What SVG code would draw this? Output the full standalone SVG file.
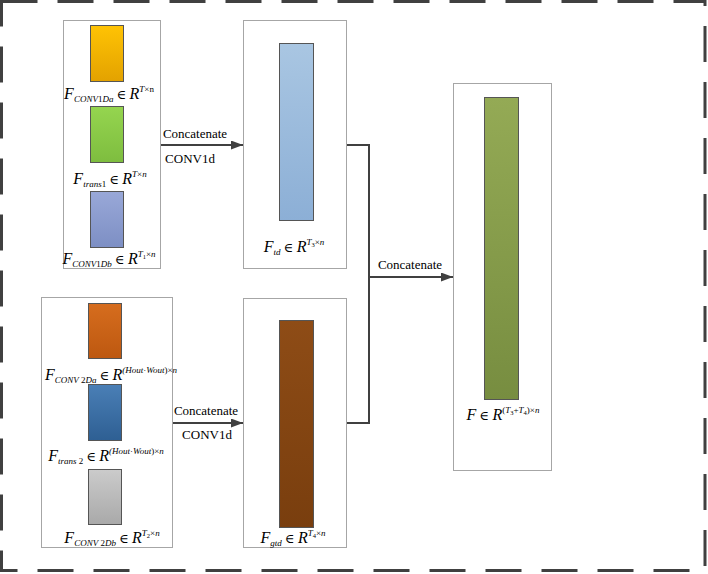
<svg xmlns="http://www.w3.org/2000/svg" width="708" height="574" viewBox="0 0 708 574">
<style>
.box{fill:#fff;stroke:#a6a6a6;stroke-width:1}
.bar{stroke:#555;stroke-width:1}
.conn{fill:none;stroke:#404040;stroke-width:2}
.lbl{font-family:'Liberation Serif','DejaVu Serif',serif;font-size:13px;fill:#000}
.m{font-family:'Liberation Serif','DejaVu Serif',serif;font-style:italic;font-size:16px;fill:#000}
.s{font-size:9px}
.ss{font-size:6.5px}
.u{font-style:normal}
.e{font-style:normal;font-size:13px}
</style>
<defs>
<linearGradient id="gOr" x1="0" y1="0" x2="0" y2="1"><stop offset="0" stop-color="#ffc304"/><stop offset="1" stop-color="#e3a200"/></linearGradient>
<linearGradient id="gGr" x1="0" y1="0" x2="0" y2="1"><stop offset="0" stop-color="#95d54f"/><stop offset="1" stop-color="#7ebd3f"/></linearGradient>
<linearGradient id="gPu" x1="0" y1="0" x2="0" y2="1"><stop offset="0" stop-color="#99a8d8"/><stop offset="1" stop-color="#7d8fc4"/></linearGradient>
<linearGradient id="gOr2" x1="0" y1="0" x2="0" y2="1"><stop offset="0" stop-color="#d66d1e"/><stop offset="1" stop-color="#bd5810"/></linearGradient>
<linearGradient id="gBl2" x1="0" y1="0" x2="0" y2="1"><stop offset="0" stop-color="#4a7fb6"/><stop offset="1" stop-color="#2e5f93"/></linearGradient>
<linearGradient id="gGy" x1="0" y1="0" x2="0" y2="1"><stop offset="0" stop-color="#cbcbcb"/><stop offset="1" stop-color="#a9a9a9"/></linearGradient>
<linearGradient id="gLb" x1="0" y1="0" x2="0" y2="1"><stop offset="0" stop-color="#a9c6e2"/><stop offset="1" stop-color="#8cafd6"/></linearGradient>
<linearGradient id="gBr" x1="0" y1="0" x2="0" y2="1"><stop offset="0" stop-color="#8e4c16"/><stop offset="1" stop-color="#793e0e"/></linearGradient>
<linearGradient id="gOl" x1="0" y1="0" x2="0" y2="1"><stop offset="0" stop-color="#94aa55"/><stop offset="1" stop-color="#778d40"/></linearGradient>
<marker id="arr" markerUnits="userSpaceOnUse" markerWidth="13" markerHeight="10" refX="12" refY="4.5" orient="auto"><path d="M0,0 L12,4.5 L0,9 z" fill="#404040"/></marker>
</defs>

<rect x="1.5" y="1.5" width="703.5" height="569" fill="none" stroke="#404040" stroke-width="3" stroke-dasharray="36 20"/>

<g id="groupA">
<rect class="box" x="63.5" y="20.5" width="97" height="248"/>
<rect class="bar" x="90.5" y="25.5" width="33" height="56" fill="url(#gOr)"/>
<text class="m" x="109" y="99" text-anchor="middle">F<tspan class="s" dy="3">CONV</tspan><tspan class="s u">1</tspan><tspan class="s">Da</tspan><tspan class="e" dy="-3"> ∈ </tspan>R<tspan class="s" dy="-7">T</tspan><tspan class="s u">×n</tspan></text>
<rect class="bar" x="90.5" y="106.5" width="33" height="56" fill="url(#gGr)"/>
<text class="m" x="110" y="184" text-anchor="middle">F<tspan class="s" dy="3">trans</tspan><tspan class="s u">1</tspan><tspan class="e" dy="-3"> ∈ </tspan>R<tspan class="s" dy="-7">T</tspan><tspan class="s u">×</tspan><tspan class="s">n</tspan></text>
<rect class="bar" x="90.5" y="191.5" width="33" height="56" fill="url(#gPu)"/>
<text class="m" x="109" y="264" text-anchor="middle">F<tspan class="s" dy="3">CONV</tspan><tspan class="s u">1</tspan><tspan class="s">Db</tspan><tspan class="e" dy="-3"> ∈ </tspan>R<tspan class="s" dy="-7">T</tspan><tspan class="ss u" dy="2">1</tspan><tspan class="s u" dy="-2">×</tspan><tspan class="s">n</tspan></text>
</g>

<g id="groupB">
<rect class="box" x="41.5" y="297.5" width="131" height="250"/>
<rect class="bar" x="88.5" y="303.5" width="33" height="55" fill="url(#gOr2)"/>
<text class="m" x="111" y="380" text-anchor="middle">F<tspan class="s" dy="3">CONV</tspan><tspan class="s u"> 2</tspan><tspan class="s">Da</tspan><tspan class="e" dy="-3"> ∈ </tspan>R<tspan class="s" dy="-7">(Hout</tspan><tspan class="s u">·</tspan><tspan class="s">Wout</tspan><tspan class="s u">)×</tspan><tspan class="s">n</tspan></text>
<rect class="bar" x="88.5" y="384.5" width="33" height="56" fill="url(#gBl2)"/>
<text class="m" x="106" y="461" text-anchor="middle">F<tspan class="s" dy="3">trans</tspan><tspan class="s u"> 2</tspan><tspan class="e" dy="-3"> ∈ </tspan>R<tspan class="s" dy="-7">(Hout</tspan><tspan class="s u">·</tspan><tspan class="s">Wout</tspan><tspan class="s u">)×</tspan><tspan class="s">n</tspan></text>
<rect class="bar" x="88.5" y="469.5" width="33" height="55" fill="url(#gGy)"/>
<text class="m" x="112" y="543" text-anchor="middle">F<tspan class="s" dy="3">CONV</tspan><tspan class="s u"> 2</tspan><tspan class="s">Db</tspan><tspan class="e" dy="-3"> ∈ </tspan>R<tspan class="s" dy="-7">T</tspan><tspan class="ss u" dy="2">2</tspan><tspan class="s u" dy="-2">×</tspan><tspan class="s">n</tspan></text>
</g>

<g id="nodeTd">
<rect class="box" x="243.5" y="20.5" width="103" height="248"/>
<rect class="bar" x="279.5" y="43.5" width="34" height="177" fill="url(#gLb)"/>
<text class="m" x="294" y="252" text-anchor="middle">F<tspan class="s" dy="3">td</tspan><tspan class="e" dy="-3"> ∈ </tspan>R<tspan class="s" dy="-7">T</tspan><tspan class="ss u" dy="2">3</tspan><tspan class="s u" dy="-2">×</tspan><tspan class="s">n</tspan></text>
</g>

<g id="nodeGtd">
<rect class="box" x="243.5" y="298.5" width="103" height="249"/>
<rect class="bar" x="279.5" y="320.5" width="34" height="207" fill="url(#gBr)"/>
<text class="m" x="293" y="543" text-anchor="middle">F<tspan class="s" dy="3">gtd</tspan><tspan class="e" dy="-3"> ∈ </tspan>R<tspan class="s" dy="-7">T</tspan><tspan class="ss u" dy="2">4</tspan><tspan class="s u" dy="-2">×</tspan><tspan class="s">n</tspan></text>
</g>

<g id="nodeF">
<rect class="box" x="453.5" y="83.5" width="98" height="387"/>
<rect class="bar" x="484.5" y="97.5" width="34" height="302" fill="url(#gOl)"/>
<text class="m" x="503" y="420" text-anchor="middle">F<tspan class="e"> ∈ </tspan>R<tspan class="s u" dy="-7">(</tspan><tspan class="s">T</tspan><tspan class="ss u" dy="2">3</tspan><tspan class="s u" dy="-2">+</tspan><tspan class="s">T</tspan><tspan class="ss u" dy="2">4</tspan><tspan class="s u" dy="-2">)×</tspan><tspan class="s">n</tspan></text>
</g>

<g id="connectors">
<line class="conn" x1="161" y1="145" x2="243" y2="145" marker-end="url(#arr)"/>
<line class="conn" x1="173" y1="423" x2="243" y2="423" marker-end="url(#arr)"/>
<path class="conn" d="M347,145 H369 V423 H347"/>
<line class="conn" x1="369" y1="277" x2="453" y2="277" marker-end="url(#arr)"/>
<text class="lbl" x="195" y="138" text-anchor="middle">Concatenate</text>
<text class="lbl" x="190" y="163" text-anchor="middle">CONV1d</text>
<text class="lbl" x="206" y="415" text-anchor="middle">Concatenate</text>
<text class="lbl" x="207" y="439" text-anchor="middle">CONV1d</text>
<text class="lbl" x="410" y="269" text-anchor="middle">Concatenate</text>
</g>
</svg>
